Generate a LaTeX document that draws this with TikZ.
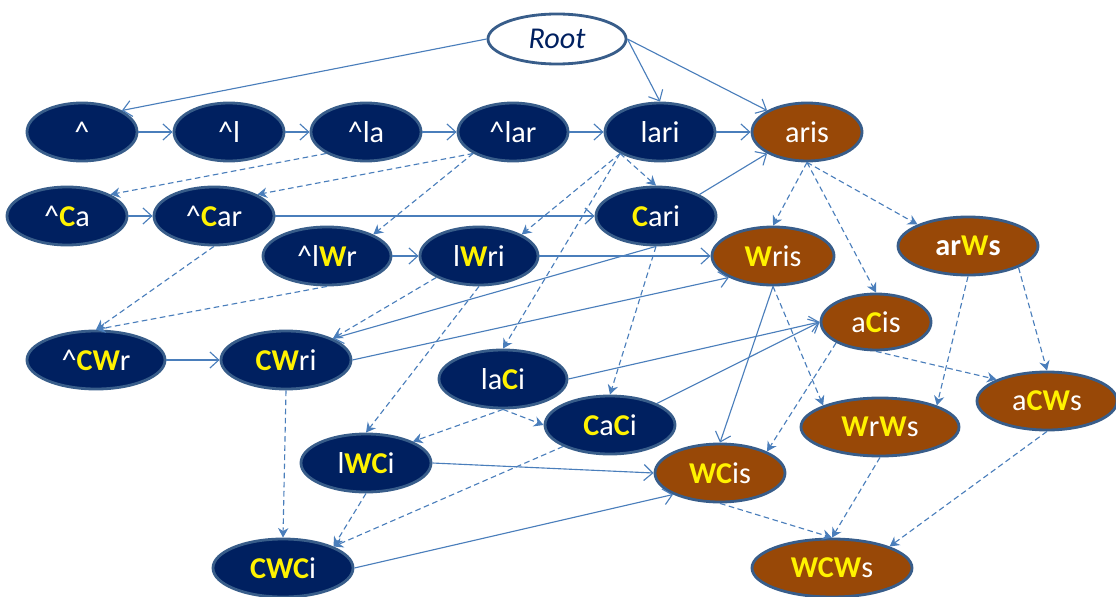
\documentclass[tikz,border=0pt]{standalone}
\usepackage{fontspec}
\setmainfont{Carlito}
\usetikzlibrary{shapes.geometric,arrows.meta}
\definecolor{navy}{RGB}{0,32,96}
\definecolor{rim}{RGB}{56,93,138}
\definecolor{rust}{RGB}{152,72,7}
\definecolor{wire}{RGB}{74,126,187}
\newcommand{\Y}[1]{{\bfseries\color{yellow}#1}}
\newcommand{\caret}{\textasciicircum}

\begin{document}
\begin{tikzpicture}[x=0.025cm, y=-0.025cm,
% common options for the ellipses:
word/.style = {ellipse, draw=rim, line width=2pt, fill=navy, text=white,
            inner sep=0, minimum height=1.45cm, minimum width=2.75cm,
            font=\fontsize{21.5}{24}\selectfont},
suffix/.style = {word, fill=rust},
% common options for the arrows:
hop/.style = {draw=wire, line width=0.8pt, -{Straight Barb[length=2.2mm,width=4mm]}},
gen/.style = {draw=wire, line width=0.8pt, dash pattern=on 4pt off 2.5pt,
            -{Stealth[length=2.4mm,width=2.6mm]}}]
\useasboundingbox (0,0) rectangle (1116,597);
\node[word, fill=white, text=navy, minimum width=3.45cm, minimum height=1.25cm,
      font=\fontsize{21.5}{24}\selectfont\itshape] (root) at (557,39) {Root};
% first row
\node[word] (h) at (82,132) {\caret};
\node[word] (hl) at (229,132) {\caret l};
\node[word] (hla) at (366,132) {\caret la};
\node[word] (hlar) at (513,132) {\caret lar};
\node[word] (lari) at (660,132) {lari};
\node[suffix] (aris) at (807,132) {aris};
% second row
\node[word, minimum width=3.0cm] (hCa) at (67,216) {\caret\Y{C}a};
\node[word, minimum width=3.0cm] (hCar) at (214,216) {\caret\Y{C}ar};
\node[word, minimum width=3.0cm] (Cari) at (656,216) {\Y{C}ari};
\node[word, minimum width=3.2cm] (hlWr) at (327,256) {\caret l\Y{W}r};
\node[word, minimum width=2.95cm] (lWri) at (479,256) {l\Y{W}ri};
\node[suffix, minimum width=3.05cm] (Wris) at (773,256) {\Y{W}ris};
\node[suffix, minimum width=3.5cm] (arWs) at (968,246) {\bfseries ar\Y{W}s};
% third row
\node[word, minimum width=3.45cm] (hCWr) at (96,360) {\caret\Y{CW}r};
\node[word, minimum width=3.25cm] (CWri) at (286,360) {\Y{CW}ri};
\node[suffix, minimum height=1.4cm] (aCis) at (876,322) {a\Y{C}is};
\node[word, minimum width=3.2cm] (laCi) at (503,379) {la\Y{C}i};
\node[word, minimum width=3.25cm] (CaCi) at (610,425) {\Y{C}a\Y{C}i};
\node[suffix, minimum width=3.5cm] (aCWs) at (1047,401) {a\Y{CW}s};
\node[suffix, minimum width=3.95cm] (WrWs) at (880,427) {\Y{W}r\Y{W}s};
% bottom rows
\node[word, minimum width=3.25cm] (lWCi) at (366,463) {l\Y{WC}i};
\node[suffix, minimum width=3.25cm] (WCis) at (720,473) {\Y{WC}is};
\node[word, minimum width=3.5cm] (CWCi) at (283,568) {\Y{CWC}i};
\node[suffix, minimum width=4.0cm] (WCWs) at (832,568) {\Y{WCW}s};
% solid arrows
\draw[hop] (root.west) to (h.north east);
\draw[hop] (root.east) to (lari.north);
\draw[hop] (root.east) to (aris.north west);
\draw[hop] (h) to (hl);
\draw[hop] (hl) to (hla);
\draw[hop] (hla) to (hlar);
\draw[hop] (hlar) to (lari);
\draw[hop] (lari) to (aris);
\draw[hop] (hCa) to (hCar);
\draw[hop] (hCar) to (Cari);
\draw[hop] (Cari.north east) to (aris.south west);
\draw[hop] (hlWr) to (lWri);
\draw[hop] (lWri) to (Wris);
\draw[hop] (Cari.south) to (CWri.north east);
\draw[hop] (CWri.east) to (Wris.south west);
\draw[hop] (hCWr) to (CWri);
\draw[hop] (laCi.east) to (aCis.west);
\draw[hop] (CaCi.north east) to (aCis.west);
\draw[hop] (Wris.south) to (WCis.north);
\draw[hop] (lWCi.east) to (WCis.west);
\draw[hop] (CWCi.east) to (WCis.south west);
% dashed arrows
\draw[gen] (hla.south west) to (hCa.north east);
\draw[gen] (hlar.south west) to (hCar.north east);
\draw[gen] (hlar.south west) to (hlWr.north east);
\draw[gen] (hCar.south) to (hCWr.north);
\draw[gen] (hlWr.south) to (hCWr.north);
\draw[gen] (lari.south west) to (lWri.north east);
\draw[gen] (lari.south west) to (Cari.north);
\draw[gen] (lari.south west) to (laCi.north);
\draw[gen] (Cari.south) to (CaCi.north);
\draw[gen] (lWri.south west) to (CWri.north east);
\draw[gen] (lWri.south) to (lWCi.north);
\draw[gen] (laCi.south) to (CaCi.west);
\draw[gen] (laCi.south) to (lWCi.north east);
\draw[gen] (CWri.south) to (CWCi.north);
\draw[gen] (lWCi.south) to (CWCi.north east);
\draw[gen] (CaCi.south west) to (CWCi.north east);
\draw[gen] (aris.south) to (Wris.north);
\draw[gen] (aris.south) to (aCis.north);
\draw[gen] (aris.south) to (arWs.north west);
\draw[gen] (Wris.south) to (WrWs.north west);
\draw[gen] (aCis.south west) to (WCis.north east);
\draw[gen] (aCis.south) to (aCWs.north west);
\draw[gen] (arWs.south) to (WrWs.north east);
\draw[gen] (arWs.south east) to (aCWs.north);
\draw[gen] (WrWs.south) to (WCWs.north);
\draw[gen] (aCWs.south) to (WCWs.north east);
\draw[gen] (WCis.south) to (WCWs.north);
\end{tikzpicture}
\end{document}
